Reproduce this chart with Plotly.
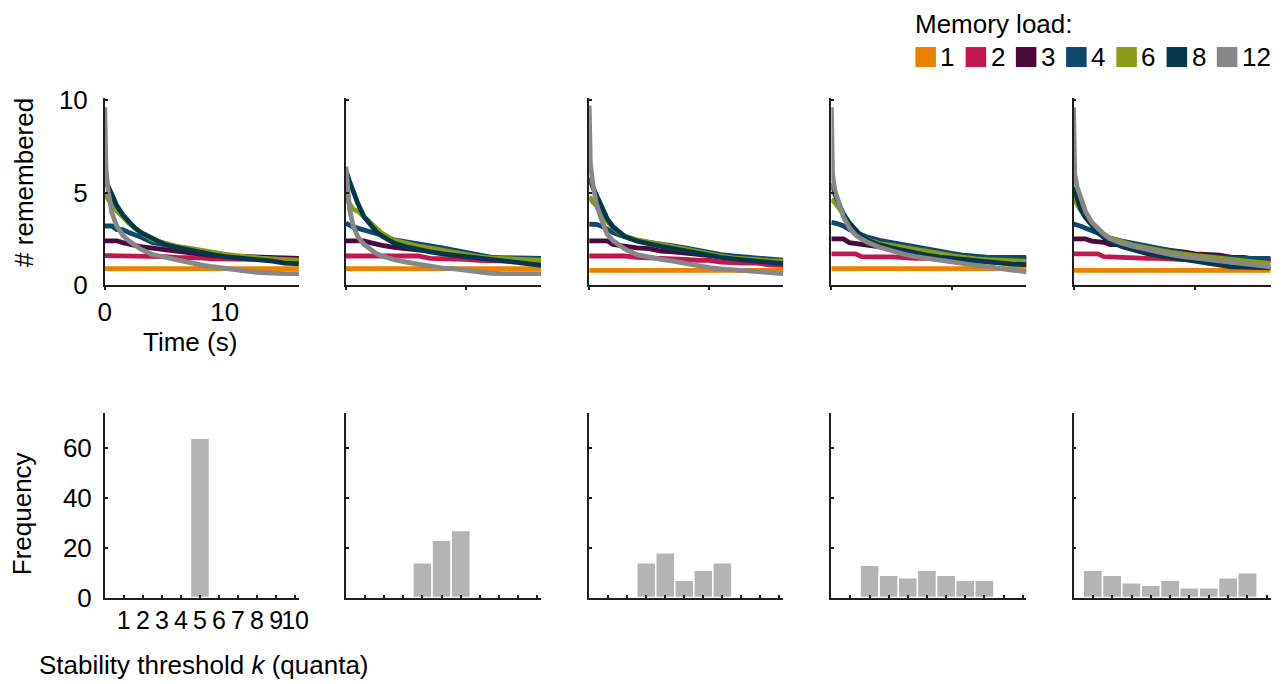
import plotly.graph_objects as go

# ---- data -------------------------------------------------------------
LOADS = [1, 2, 3, 4, 6, 8, 12]
LOAD_COLORS = ["#EB8200", "#C0174F", "#4A0A3C", "#0E486E", "#889B14", "#04374A", "#878787"]

# shared time grid (s) for the "# remembered" curves
T = [0, 0.1, 0.3, 0.6, 1.0, 1.5, 2.0, 2.5, 3.0, 4.0, 5.0, 6.0, 7.0, 8.0,
     9.0, 10.0, 11.0, 12.0, 13.0, 14.0, 15.0, 16.2]

remembered_a = {
    1: [0.9, 0.9, 0.9, 0.9, 0.9, 0.9, 0.9, 0.9, 0.9, 0.9, 0.9, 0.9, 0.9, 0.9, 0.9, 0.9, 0.9, 0.9, 0.9, 0.9, 0.9, 0.9],
    2: [1.6, 1.6, 1.6, 1.6, 1.6, 1.6, 1.6, 1.6, 1.6, 1.55, 1.55, 1.5, 1.5, 1.48, 1.42, 1.4, 1.4, 1.4, 1.4, 1.4, 1.38, 1.38],
    3: [2.4, 2.4, 2.4, 2.4, 2.4, 2.3, 2.2, 2.15, 2.08, 2.0, 1.9, 1.8, 1.72, 1.65, 1.6, 1.58, 1.55, 1.52, 1.5, 1.48, 1.46, 1.45],
    4: [3.2, 3.2, 3.2, 3.2, 3.0, 3.0, 2.85, 2.75, 2.6, 2.3, 2.2, 2.05, 1.95, 1.88, 1.75, 1.62, 1.55, 1.48, 1.42, 1.35, 1.3, 1.25],
    6: [4.9, 4.8, 4.6, 4.3, 4.0, 3.7, 3.35, 3.1, 2.85, 2.45, 2.25, 2.1, 2.0, 1.88, 1.78, 1.68, 1.6, 1.52, 1.47, 1.43, 1.4, 1.35],
    8: [5.8, 5.6, 5.3, 4.9, 4.3, 3.8, 3.4, 3.1, 2.85, 2.5, 2.2, 2.05, 1.9, 1.8, 1.65, 1.55, 1.5, 1.42, 1.38, 1.3, 1.2, 1.15],
    12: [9.6, 6.3, 5.0, 3.9, 3.2, 2.7, 2.4, 2.15, 1.95, 1.65, 1.5, 1.38, 1.25, 1.1, 1.0, 0.9, 0.85, 0.75, 0.68, 0.63, 0.63, 0.63],
}
remembered_b = {
    1: [0.9, 0.9, 0.9, 0.9, 0.9, 0.9, 0.9, 0.9, 0.9, 0.9, 0.9, 0.9, 0.9, 0.9, 0.9, 0.9, 0.9, 0.9, 0.9, 0.9, 0.9, 0.9],
    2: [1.58, 1.58, 1.58, 1.58, 1.58, 1.58, 1.58, 1.58, 1.58, 1.58, 1.58, 1.58, 1.45, 1.45, 1.45, 1.4, 1.35, 1.32, 1.3, 1.3, 1.3, 1.3],
    3: [2.4, 2.4, 2.4, 2.4, 2.4, 2.4, 2.3, 2.22, 2.15, 2.05, 1.98, 1.92, 1.85, 1.75, 1.68, 1.6, 1.52, 1.48, 1.46, 1.45, 1.45, 1.45],
    4: [3.35, 3.3, 3.25, 3.15, 3.08, 2.95, 2.85, 2.8, 2.7, 2.45, 2.32, 2.22, 2.12, 2.02, 1.9, 1.78, 1.65, 1.52, 1.48, 1.46, 1.45, 1.45],
    6: [4.7, 4.6, 4.4, 4.1, 4.0, 3.7, 3.35, 3.05, 2.8, 2.42, 2.25, 2.12, 2.0, 1.88, 1.75, 1.62, 1.55, 1.48, 1.43, 1.4, 1.38, 1.35],
    8: [6.1, 6.0, 5.6, 5.0, 4.4, 3.7, 3.3, 2.9, 2.65, 2.28, 2.08, 1.92, 1.8, 1.7, 1.62, 1.55, 1.45, 1.35, 1.28, 1.2, 1.12, 1.08],
    12: [6.4, 5.5, 4.1, 3.2, 2.6, 2.2, 1.95, 1.72, 1.58, 1.38, 1.25, 1.12, 1.0, 0.92, 0.88, 0.8, 0.75, 0.65, 0.63, 0.63, 0.63, 0.63],
}
remembered_c = {
    1: [0.8, 0.8, 0.8, 0.8, 0.8, 0.8, 0.8, 0.8, 0.8, 0.8, 0.8, 0.8, 0.8, 0.8, 0.8, 0.8, 0.8, 0.8, 0.8, 0.8, 0.8, 0.8],
    2: [1.58, 1.58, 1.58, 1.58, 1.58, 1.58, 1.58, 1.58, 1.58, 1.5, 1.48, 1.48, 1.48, 1.4, 1.35, 1.35, 1.25, 1.2, 1.2, 1.2, 1.1, 1.08],
    3: [2.4, 2.4, 2.4, 2.4, 2.4, 2.4, 2.2, 2.15, 2.12, 2.02, 1.98, 1.85, 1.8, 1.75, 1.65, 1.6, 1.55, 1.48, 1.45, 1.42, 1.35, 1.3],
    4: [3.3, 3.3, 3.3, 3.28, 3.2, 3.0, 2.85, 2.72, 2.6, 2.42, 2.32, 2.25, 2.12, 2.02, 1.88, 1.75, 1.65, 1.58, 1.52, 1.45, 1.4, 1.35],
    6: [4.75, 4.7, 4.5, 4.3, 3.8, 3.4, 3.1, 2.85, 2.65, 2.45, 2.32, 2.2, 2.08, 1.95, 1.82, 1.7, 1.58, 1.48, 1.42, 1.38, 1.33, 1.3],
    8: [5.8, 5.7, 5.3, 4.85, 4.2, 3.6, 3.15, 2.85, 2.62, 2.38, 2.22, 2.1, 1.98, 1.85, 1.72, 1.62, 1.5, 1.42, 1.35, 1.28, 1.22, 1.17],
    12: [9.7, 6.6, 5.5, 4.4, 3.6, 2.75, 2.4, 2.15, 1.95, 1.65, 1.5, 1.4, 1.3, 1.18, 1.05, 0.95, 0.88, 0.83, 0.78, 0.72, 0.65, 0.63],
}
remembered_d = {
    1: [0.9, 0.9, 0.9, 0.9, 0.9, 0.9, 0.9, 0.9, 0.9, 0.9, 0.9, 0.9, 0.9, 0.9, 0.9, 0.9, 0.9, 0.9, 0.9, 0.9, 0.9, 0.9],
    2: [1.7, 1.7, 1.7, 1.7, 1.7, 1.7, 1.7, 1.55, 1.53, 1.53, 1.53, 1.48, 1.45, 1.45, 1.4, 1.32, 1.3, 1.3, 1.25, 1.2, 1.17, 1.17],
    3: [2.5, 2.5, 2.5, 2.5, 2.5, 2.3, 2.25, 2.25, 2.15, 2.1, 1.98, 1.9, 1.88, 1.75, 1.7, 1.68, 1.55, 1.5, 1.5, 1.5, 1.48, 1.45],
    4: [3.4, 3.4, 3.35, 3.3, 3.2, 3.0, 2.85, 2.72, 2.6, 2.42, 2.3, 2.18, 2.05, 1.9, 1.8, 1.72, 1.62, 1.55, 1.5, 1.5, 1.5, 1.5],
    6: [4.65, 4.6, 4.45, 4.2, 3.8, 3.35, 2.95, 2.65, 2.45, 2.25, 2.15, 2.05, 1.98, 1.85, 1.72, 1.6, 1.48, 1.42, 1.38, 1.35, 1.32, 1.3],
    8: [5.5, 5.4, 4.9, 4.4, 3.85, 3.35, 2.95, 2.65, 2.45, 2.18, 2.02, 1.88, 1.72, 1.62, 1.52, 1.46, 1.4, 1.33, 1.25, 1.18, 1.14, 1.12],
    12: [9.6, 6.0, 5.1, 4.4, 3.7, 3.1, 2.72, 2.5, 2.32, 2.05, 1.85, 1.68, 1.55, 1.45, 1.32, 1.22, 1.15, 1.08, 1.0, 0.94, 0.82, 0.72],
}
remembered_e = {
    1: [0.8, 0.8, 0.8, 0.8, 0.8, 0.8, 0.8, 0.8, 0.8, 0.8, 0.8, 0.8, 0.8, 0.8, 0.8, 0.8, 0.8, 0.8, 0.8, 0.8, 0.8, 0.8],
    2: [1.7, 1.7, 1.7, 1.7, 1.7, 1.7, 1.7, 1.55, 1.53, 1.53, 1.48, 1.45, 1.45, 1.4, 1.38, 1.36, 1.35, 1.35, 1.35, 1.35, 1.35, 1.35],
    3: [2.5, 2.5, 2.5, 2.5, 2.5, 2.38, 2.35, 2.32, 2.2, 2.2, 2.1, 2.08, 1.95, 1.9, 1.8, 1.7, 1.68, 1.62, 1.5, 1.5, 1.4, 1.35],
    4: [3.3, 3.3, 3.25, 3.18, 3.08, 2.92, 2.78, 2.65, 2.55, 2.38, 2.25, 2.1, 1.98, 1.85, 1.72, 1.62, 1.56, 1.5, 1.48, 1.46, 1.45, 1.45],
    6: [4.75, 4.6, 4.35, 4.05, 3.65, 3.3, 3.0, 2.75, 2.55, 2.32, 2.15, 2.02, 1.88, 1.78, 1.68, 1.6, 1.52, 1.47, 1.42, 1.32, 1.25, 1.18],
    8: [5.3, 5.1, 4.6, 4.1, 3.65, 3.2, 2.85, 2.58, 2.35, 2.08, 1.88, 1.72, 1.6, 1.48, 1.38, 1.3, 1.2, 1.08, 1.0, 0.98, 0.95, 0.94],
    12: [9.6, 6.0, 5.3, 4.7, 3.95, 3.4, 3.05, 2.75, 2.5, 2.25, 2.08, 1.92, 1.8, 1.65, 1.55, 1.48, 1.4, 1.32, 1.24, 1.15, 1.07, 1.0],
}
REMEMBERED = [remembered_a, remembered_b, remembered_c, remembered_d, remembered_e]

# stability threshold histograms
K = [1, 2, 3, 4, 5, 6, 7, 8, 9, 10]
freq_a = [0, 0, 0, 0, 64, 0, 0, 0, 0, 0]
freq_b = [0, 0, 0, 14, 23, 27, 0, 0, 0, 0]
freq_c = [0, 0, 14, 18, 7, 11, 14, 0, 0, 0]
freq_d = [0, 13, 9, 8, 11, 9, 7, 7, 0, 0]
freq_e = [11, 9, 6, 5, 7, 4, 4, 8, 10, 0]
FREQS = [freq_a, freq_b, freq_c, freq_d, freq_e]

TIME_TICKS = [0, 10]
COUNT_TICKS = [0, 5, 10]
FREQ_TICKS = [0, 20, 40, 60]

# ---- layout geometry --------------------------------------------------
W, H = 1284, 700
# screen placement of the figure: screen = scale * figure_px + offset
SCALE_X, OFFSET_X = 0.986, 8.3
SCALE_Y, OFFSET_Y = 0.959, 13.0
FONT = "Liberation Sans, Arial, Helvetica, sans-serif"
FS = 26
PANEL_X = [(106, 300), (347, 542), (590, 784), (832, 1027), (1074, 1271)]
TOP_Y = (98, 285)
BOT_Y = (413, 597)
AXIS_COLOR = "#1e1e1e"


def px_x(p):
    """Screen x (px) -> paper fraction."""
    return ((p - OFFSET_X) / SCALE_X) / W


def px_y(p):
    """Screen y (px, from top) -> paper fraction."""
    return 1 - ((p - OFFSET_Y) / SCALE_Y) / H


fig = go.Figure()
layout = dict(
    width=W, height=H, margin=dict(l=0, r=0, t=0, b=0),
    paper_bgcolor="white", plot_bgcolor="white", showlegend=False,
    font=dict(family=FONT, size=FS, color="black"),
)

axis_common = dict(
    showline=True, linecolor=AXIS_COLOR, linewidth=1.5, showgrid=False,
    zeroline=False, ticks="inside", ticklen=3, tickwidth=1.5, tickcolor=AXIS_COLOR,
    tickangle=0, tickfont=dict(family=FONT, size=FS, color="black"),
)

for i in range(5):
    n_top = i + 1
    n_bot = i + 6
    x0, x1 = PANEL_X[i]
    first = i == 0

    # top: number of remembered items over time
    for load, color in zip(LOADS, LOAD_COLORS):
        fig.add_trace(go.Scatter(
            x=T, y=REMEMBERED[i][load], mode="lines",
            line=dict(color=color, width=4.8, shape="linear"),
            xaxis=f"x{n_top}", yaxis=f"y{n_top}", name=str(load),
        ))
    layout[f"xaxis{n_top}"] = dict(
        axis_common, domain=[px_x(x0), px_x(x1)], range=[0, 16.2],
        tickvals=TIME_TICKS, showticklabels=first, anchor=f"y{n_top}",
        ticks="outside",
    )
    layout[f"yaxis{n_top}"] = dict(
        axis_common, domain=[px_y(TOP_Y[1]), px_y(TOP_Y[0])], range=[0, 10.1],
        tickvals=COUNT_TICKS, showticklabels=first, anchor=f"x{n_top}",
        ticklabelstandoff=10,
    )

    # bottom: histogram of stability thresholds
    fig.add_trace(go.Bar(
        x=K, y=FREQS[i], width=1.0,
        marker=dict(color="#B4B4B4", line=dict(color="white", width=1.5)),
        xaxis=f"x{n_bot}", yaxis=f"y{n_bot}",
    ))
    layout[f"xaxis{n_bot}"] = dict(
        axis_common, domain=[px_x(x0), px_x(x1)], range=[0, 10.2],
        tickvals=K, showticklabels=first, anchor=f"y{n_bot}",
        tickfont=dict(family=FONT, size=25, color="black"),
    )
    layout[f"yaxis{n_bot}"] = dict(
        axis_common, domain=[px_y(BOT_Y[1]), px_y(BOT_Y[0])], range=[0, 74],
        tickvals=FREQ_TICKS, showticklabels=first, anchor=f"x{n_bot}",
        ticklabelstandoff=6,
    )

annotations = []
shapes = []


def label(text, x, y, xanchor="center", angle=0):
    annotations.append(dict(
        text=text, x=px_x(x), y=px_y(y), xref="paper", yref="paper",
        xanchor=xanchor, yanchor="middle", showarrow=False, textangle=angle,
        font=dict(family=FONT, size=FS, color="black"),
    ))


label("# remembered", 25, 182, angle=-90)
label("Time (s)", 191, 342)
label("Frequency", 23, 513, angle=-90)
label("Stability threshold <i>k</i> (quanta)", 38, 664, xanchor="left")

# legend: colour swatches with load labels
label("Memory load:", 914, 24, xanchor="left")
for j, (load, color) in enumerate(zip(LOADS, LOAD_COLORS)):
    sx = 916 + 50.2 * j
    shapes.append(dict(
        type="rect", xref="paper", yref="paper",
        x0=px_x(sx), x1=px_x(sx + 20.5), y0=px_y(67), y1=px_y(47),
        fillcolor=color, line=dict(width=0),
    ))
    label(str(load), sx + 23, 57, xanchor="left")

layout["annotations"] = annotations
layout["shapes"] = shapes
fig.update_layout(**layout)
fig.write_html("out.html")
